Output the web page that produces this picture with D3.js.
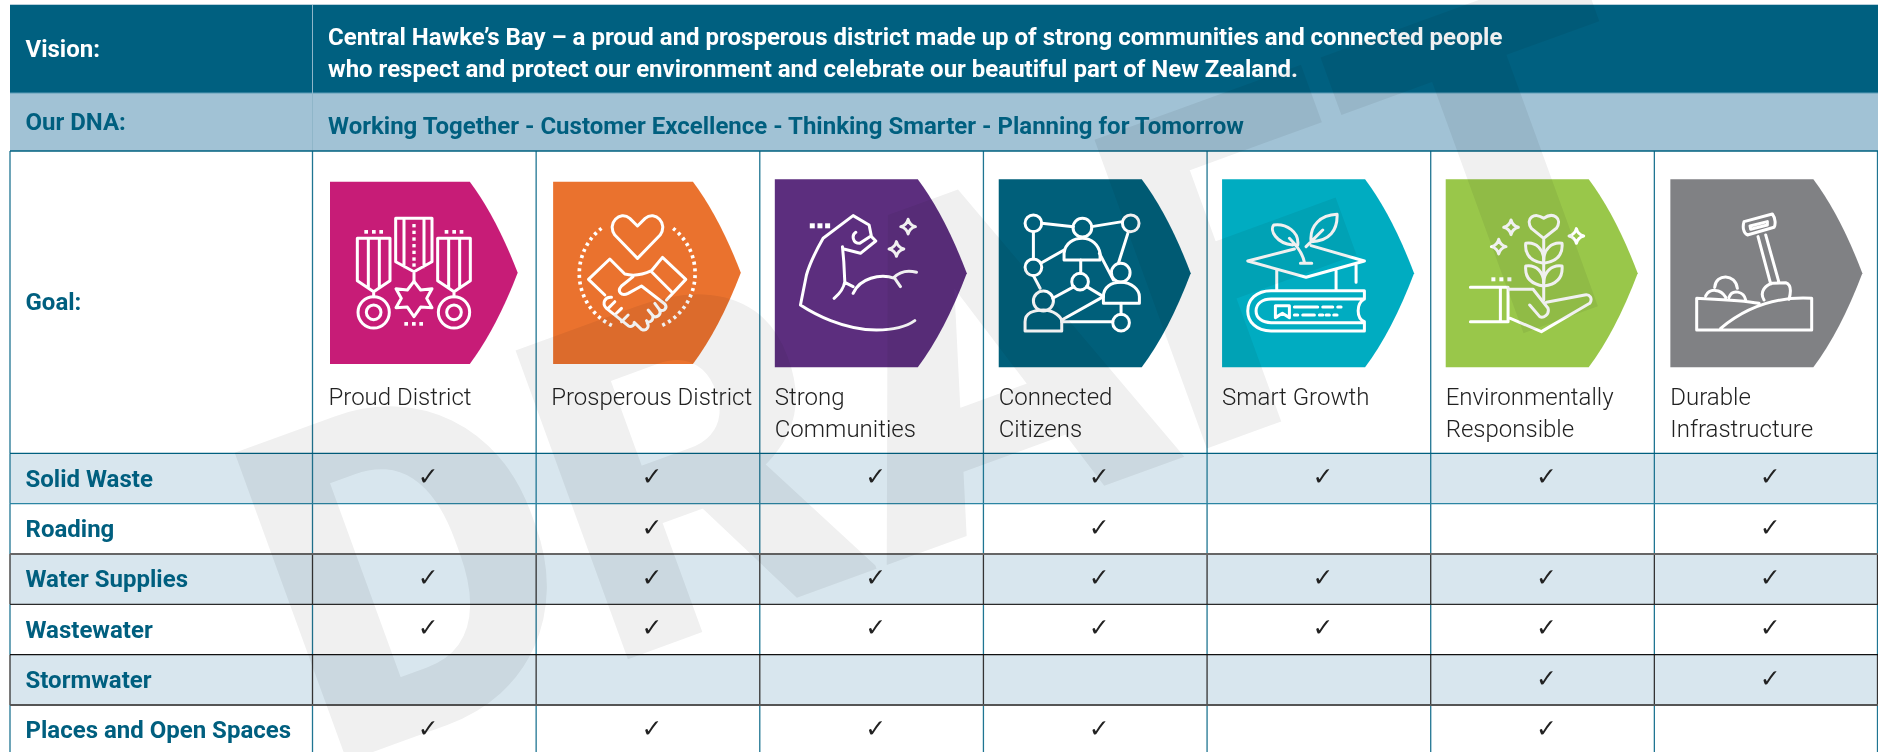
<!DOCTYPE html>
<html><head><meta charset="utf-8">
<script src="https://cdn.jsdelivr.net/npm/d3@7/dist/d3.min.js"></script>
<style>html,body{margin:0;padding:0;background:#fff}svg{display:block;font-family:Roboto,sans-serif}</style>
</head><body><svg id="c" width="1878" height="752"></svg>
<script>
const visionLines = ["Central Hawke\u2019s Bay \u2013 a proud and prosperous district made up of strong communities and connected people","who respect and protect our environment and celebrate our beautiful part of New Zealand."];
const dnaText = "Working Together - Customer Excellence - Thinking Smarter - Planning for Tomorrow";
const goals = ["Proud District","Prosperous District","Strong Communities","Connected Citizens","Smart Growth","Environmentally Responsible","Durable Infrastructure"];
const goalLines = [["Proud District"],["Prosperous District"],["Strong","Communities"],["Connected","Citizens"],["Smart Growth"],["Environmentally","Responsible"],["Durable","Infrastructure"]];
const goalColors = ["#c71c77","#ea722e","#5c2e7e","#005f7a","#00acc1","#99c74a","#808184"];
const activities = ["Solid Waste","Roading","Water Supplies","Wastewater","Stormwater","Places and Open Spaces"];
const solidWaste = [1,1,1,1,1,1,1];
const roading = [0,1,0,1,0,0,1];
const waterSupplies = [1,1,1,1,1,1,1];
const wastewater = [1,1,1,1,1,1,1];
const stormwater = [0,0,0,0,0,1,1];
const placesOpenSpaces = [1,1,1,1,0,1,0];
const matrix = [solidWaste,roading,waterSupplies,wastewater,stormwater,placesOpenSpaces];

const TEAL="#005f7f", BAND="#a1c2d5", TINT="#d8e6ee", LINE="#1f7592";
const svg=d3.select("#c");
const x=d3.scaleBand().domain(goals).range([312.5,1878]);
const y=d3.scaleBand().domain(activities).range([453.3,755.3]);
const L=10,R=1878,T=5,V=93,D=151,G=453.3;

// bands
svg.append("rect").attr("x",L).attr("y",T).attr("width",R-L).attr("height",V-T).attr("fill","#006080");
svg.append("rect").attr("x",L).attr("y",V).attr("width",R-L).attr("height",D-V).attr("fill",BAND);
svg.selectAll(".rowbg").data(activities).join("rect").attr("class","rowbg")
  .attr("x",L).attr("y",d=>y(d)).attr("width",R-L).attr("height",y.bandwidth())
  .attr("fill",(d,i)=>i%2===0?TINT:"#fff");
svg.append("line").attr("x1",L).attr("x2",R).attr("y1",4.5).attr("y2",4.5).attr("stroke","#b9d0dc").attr("stroke-width",1.2);
svg.append("line").attr("x1",L).attr("x2",R).attr("y1",V).attr("y2",V).attr("stroke","#5e9db8").attr("stroke-width",1);
svg.append("line").attr("x1",312.5).attr("x2",312.5).attr("y1",T).attr("y2",D).attr("stroke","#8fb6c9").attr("stroke-width",1);

// grid
const colEdges=[L,312.5].concat(goals.slice(1).map(g=>x(g)),[1877.5]);
const rowStyle=[{c:LINE,t:1.3},{c:LINE,t:1.3},{c:"#333",t:1.3},{c:LINE,t:1.3},{c:"#333",t:1.3},{c:LINE,t:1.3}];
colEdges.forEach(cx=>{
  const g=svg.append("g");
  g.append("line").attr("x1",cx).attr("x2",cx).attr("y1",D).attr("y2",G).attr("stroke",LINE).attr("stroke-width",1.3);
  g.selectAll("line.v").data(activities).join("line").attr("class","v")
   .attr("x1",cx).attr("x2",cx).attr("y1",d=>y(d)).attr("y2",d=>y(d)+y.bandwidth())
   .attr("stroke",(d,i)=>rowStyle[i].c).attr("stroke-width",(d,i)=>rowStyle[i].t);
});
const hLines=[[D,"#00607f",1.5],[G,"#00607f",1.3],[y(activities[1]),"#2b85a3",1.3],[y(activities[2]),"#666",2],[y(activities[3]),"#2a2a2a",1.3],[y(activities[4]),"#111",1.3],[y(activities[5]),"#555",2]];
svg.selectAll("line.h").data(hLines).join("line").attr("class","h")
  .attr("x1",L).attr("x2",R).attr("y1",d=>d[0]).attr("y2",d=>d[0]).attr("stroke",d=>d[1]).attr("stroke-width",d=>d[2]);

// header text
const head=(t,tx,ty,fill)=>svg.append("text").attr("x",tx).attr("y",ty).attr("fill",fill).attr("font-size",24).attr("font-weight",700).text(t);
head("Vision:",25.5,57,"#fff");
head(visionLines[0],328,45,"#fff");
head(visionLines[1],328,77,"#fff");
head("Our DNA:",25.5,130,TEAL);
head(dnaText,328,134,TEAL);
head("Goal:",25.5,310,TEAL);

// row labels
svg.selectAll(".rl").data(activities).join("text").attr("class","rl")
  .attr("x",25.5).attr("y",d=>y(d)+33.3).attr("fill",TEAL).attr("font-size",24).attr("font-weight",700).text(d=>d);

// ticks
activities.forEach((a,i)=>{
  svg.selectAll(".t"+i).data(goals.filter((g,j)=>matrix[i][j])).join("text").attr("class","t"+i)
    .attr("x",g=>x(g)+x.bandwidth()/2+4).attr("y",y(a)+32).attr("text-anchor","middle")
    .attr("fill","#222").attr("font-size",25).attr("font-family","'DejaVu Sans'").text("\u2713");
});

// goal labels
goals.forEach((g,i)=>{
  const inset=[16,15,15,15.3,15,15,16][i];
  svg.append("g").selectAll("text").data(goalLines[i]).join("text")
    .attr("x",x(g)+inset).attr("y",(d,k)=>405+k*32).attr("fill","#222").attr("font-size",24).attr("font-weight",300).text(d=>d);
});

// icon glyphs, in 3x local units measured from the arrow's own top-left
const sq=(pts,s)=>pts.map(p=>`<rect x="${p[0]}" y="${p[1]}" width="${s}" height="${s}" fill="#fff" stroke="none"/>`).join("");
const spark=(cx,cy,r)=>`<path d="M${cx},${cy-r}Q${cx+r*.2},${cy-r*.2} ${cx+r},${cy}Q${cx+r*.2},${cy+r*.2} ${cx},${cy+r}Q${cx-r*.2},${cy+r*.2} ${cx-r},${cy}Q${cx-r*.2},${cy-r*.2} ${cx},${cy-r}Z"/>`;
const circ=(cx,cy,r)=>`<circle cx="${cx}" cy="${cy}" r="${r}"/>`;
const p=d=>`<path d="${d}"/>`;
const medal=dx=>p(`M${172+dx},235H${270+dx}V362L${221+dx},395L${172+dx},362Z M${205+dx},235V382 M${238+dx},235V382 M${221+dx},395V410`)+circ(221+dx,457,47)+circ(221+dx,457,22)+sq([[193+dx,210],[216+dx,210],[238+dx,210]],11);
const leafPair=dy=>p(`M432,${370+dy}C395,${365+dy} 375,${345+dy} 378,${310+dy}C410,${305+dy} 432,${330+dy} 432,${360+dy} M432,${370+dy}C470,${365+dy} 490,${345+dy} 487,${310+dy}C455,${305+dy} 432,${330+dy} 432,${360+dy}`);
const icons=[
 {o:[90,65],sw:9,s:medal(0)+medal(241)
   +p("M287,175H396V305L342,335L287,305Z M312,175V320 M372,175V320 M342,335V365")
   +sq([[337,192],[337,212],[337,232],[337,252],[337,272],[337,292],[337,310]],10)
   +p("M342,364L362,390L396,386L380,415L396,443L362,441L342,470L322,441L288,443L304,415L288,386L322,390Z")
   +sq([[313,486],[336,486],[358,486]],11)},
 {o:[760,65],sw:9,s:p("M1013,295L945,225C920,190 960,150 990,175L1013,198L1036,175C1066,150 1106,190 1081,225Z")
   +`<path stroke-width="11" stroke-dasharray="9 11" stroke-linecap="butt" d="M905,205A172,172 0 0 0 945,500 M1120,205A172,172 0 0 1 1078,500"/>`
   +p("M915,405L866,358L930,297L975,342Q1012,352 1055,332L1088,292L1158,358L1100,420 M1000,350L965,378C950,395 965,410 985,400L1025,378L1095,432C1105,445 1090,455 1080,450C1085,465 1070,475 1060,468C1060,485 1045,490 1040,482 M1055,335L1115,395")
   +p("M935,412C915,410 905,430 920,445L985,497C995,503 1005,495 1003,487L1025,508C1040,515 1050,500 1042,488 M945,425L925,445 M965,445L945,465 M985,465L965,485 M1060,468L1045,450 M1080,450L1065,430")},
 {o:[15,13],sw:9,s:p("M435,437C410,455 370,465 320,465C220,465 130,415 92,390L110,300C120,265 140,225 160,190L250,122L298,150L305,185L318,198L272,235L222,222 M218,215L222,260L225,320C222,340 205,360 193,370 M225,322L250,335 M250,355C270,310 330,295 375,310L392,335 M372,308C390,290 415,285 440,292 M258,172C245,180 248,205 270,205L300,185")
   +sq([[120,145],[143,145],[166,145]],15)+spark(415,155,22)+spark(380,222,22)},
 {o:[686,13],sw:9,s:circ(790,145,25)+circ(937,158,28)+circ(1082,145,25)+circ(790,277,25)+circ(930,320,25)+circ(1052,293,28)+circ(820,378,30)+circ(1053,443,25)
   +p("M882,255V235C885,205 910,190 937,190C965,190 985,210 990,235V255Z M1000,385V365C1000,335 1025,322 1052,322C1085,322 1108,345 1108,365V385Z M765,468V440C765,415 790,405 820,405C850,405 875,425 875,440V468Z")
   +p("M815,145L910,155 M965,155L1057,140 M790,170V252 M1075,170L1045,265 M812,265L882,225 M790,302L810,340 M932,255V295 M988,235L1030,315 M848,370L912,335 M950,335L1000,365 M875,435L1000,365 M875,440H1028 M1053,385V418")},
 {o:[23,13],sw:9,s:p("M240,222L100,258L275,307L450,258L290,212 M187,285V345 M365,285V345 M425,265V322")
   +p("M450,347H170C125,347 100,375 100,408C100,440 125,468 170,468H450V440C425,430 425,385 450,372V347 M450,372H170C145,372 125,385 125,408C125,430 145,443 170,443H450")
   +p("M183,392H225V428L204,415L183,428Z M240,396H310 M325,396H355 M370,396H380 M240,420H250 M265,420H300 M315,420H325 M335,420H345 M358,420H368")
   +p("M270,262C265,235 250,215 225,190 M275,215L325,165 M258,265H292 M235,210C185,205 165,165 178,150C215,145 255,170 250,210 M290,200C285,150 320,120 368,118C370,165 345,200 290,200")},
 {o:[138,118],sw:9,s:p("M432,295L395,265C375,235 405,215 432,235C460,215 490,235 470,265Z M432,295V480")+leafPair(0)+leafPair(68)
   +spark(334,262,22)+spark(297,320,22)+spark(530,288,22)+sq([[275,412],[299,412],[323,412]],12)
   +p("M212,442H325V545H212 M302,442V545 M330,448H400L445,505C450,525 430,535 420,530L390,495 M332,535L425,575L570,490C580,475 570,462 555,465L440,487")},
 {o:[809,118],sw:9,s:p("M960,565C1050,490 1150,470 1233,475V570H888V475C950,478 1020,480 1075,490 M915,468C925,445 960,445 975,472 M942,442C945,400 1005,400 1010,445 M985,472C995,445 1030,455 1035,480")
   +p("M1090,480C1075,455 1095,435 1115,430L1155,428C1175,435 1170,460 1165,478 M1110,432L1072,290 M1135,428L1095,285 M1030,245L1115,222C1125,235 1125,255 1120,262L1040,285C1028,280 1025,260 1030,245Z M1048,258L1100,245V255L1050,268Z")}
];
const boxes=[[17.5,181.7,187.7,182.3],[17,181.7,187.7,182.3],[15,179.3,192,188],[15.3,179.3,192,188],[15,179.3,192,188],[15,179.3,192,188],[16,179.3,192,188]];
goals.forEach((g,i)=>{
  const b=boxes[i], gg=svg.append("g").attr("transform",`translate(${x(g)+b[0]},${b[1]})`);
  const w=b[2],h=b[3],k=w/192;
  gg.append("path").attr("fill",goalColors[i])
    .attr("d",`M0,0H${143*k}Q${170*k},${36*k} ${w},${h/2}Q${170*k},${h-36*k} ${143*k},${h}H0Z`);
  gg.append("g").attr("transform",`scale(${1/3}) translate(${-icons[i].o[0]},${-icons[i].o[1]})`)
    .attr("fill","none").attr("stroke","#fff").attr("stroke-width",icons[i].sw).attr("stroke-linejoin","round").attr("stroke-linecap","round")
    .html(icons[i].s);
});

// watermark
svg.append("text").attr("transform","translate(323.5,770) rotate(-20)")
  .attr("font-family","Roboto").attr("font-weight",900).attr("font-size",462)
  .attr("fill","#f0f0f0").style("mix-blend-mode","multiply").text("DRAFT");
</script></body></html>
